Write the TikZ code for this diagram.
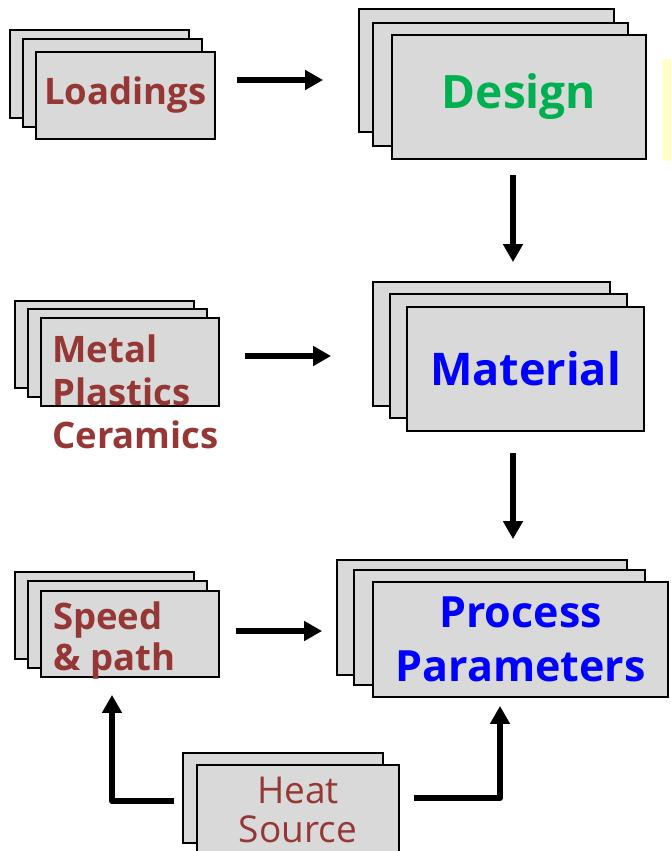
\documentclass[tikz,border=0pt]{standalone}
\usepackage{fontspec}
\setmainfont{Open Sans}
\usetikzlibrary{arrows.meta}
\definecolor{inRed}{RGB}{149,55,53}
\definecolor{designGreen}{RGB}{0,176,80}
\definecolor{mainBlue}{RGB}{0,0,255}
\definecolor{cardGray}{RGB}{217,217,217}
\definecolor{noteYellow}{RGB}{255,255,204}

\begin{document}
\begin{tikzpicture}[x=1pt, y=-1pt,
    card/.style={draw, line width=1.8pt, fill=cardGray, inner sep=0pt},
    arr/.style={line width=6pt, line join=round, -{Triangle[length=18pt, width=19pt]}},
    small/.style={font=\bfseries\fontsize{36.5}{43}\selectfont, text=inRed},
    big/.style={font=\bfseries\fontsize{46}{54}\selectfont}]
    \useasboundingbox (0,0) rectangle (670,851);
    % inputs, left column
    \node[card, minimum width=179pt, minimum height=88pt] (loadB) at (99.5,74) {};
    \node[card, minimum width=179pt, minimum height=88pt] (loadM) at (112.5,83) {};
    \node[card, small, minimum width=179pt, minimum height=87pt] (loadF) at (125.5,95.5) {\raisebox{-2pt}{Loadings}};

    \node[card, minimum width=179pt, minimum height=87pt] (metalB) at (104.5,344.5) {};
    \node[card, minimum width=179pt, minimum height=88pt] (metalM) at (117.5,353) {};
    \node[card, minimum width=178pt, minimum height=88pt] (metalF) at (130,362) {};
    \node[small, inner sep=0pt, anchor=base west, align=left] (metalTxt) at (52,448) {Metal\\Plastics\\Ceramics};

    \node[card, minimum width=179pt, minimum height=87pt] (speedB) at (104.5,615.5) {};
    \node[card, minimum width=179pt, minimum height=87pt] (speedM) at (117.5,624.5) {};
    \node[card, minimum width=178pt, minimum height=86pt] (speedF) at (130,634) {};
    \node[small, inner sep=0pt, anchor=base west, align=left, font=\bfseries\fontsize{36.5}{41}\selectfont] (speedTxt) at (53,670) {Speed\\\& path};

    \node[card, minimum width=200pt, minimum height=90pt] (heatB) at (283,798) {};
    \node[card, minimum width=202pt, minimum height=90pt, align=center, text=inRed,
        font=\fontsize{37}{39}\selectfont] (heatF) at (298,810) {Heat\\Source};

    % main column
    \node[card, minimum width=255pt, minimum height=123pt] (designB) at (486.5,70.5) {};
    \node[card, minimum width=255pt, minimum height=123pt] (designM) at (500.5,84.5) {};
    \node[card, big, text=designGreen, minimum width=254pt, minimum height=124pt] (designF) at (519,97) {Design};
    \fill[noteYellow] (662,59) rectangle (672,161);

    \node[card, minimum width=237pt, minimum height=124pt] (matB) at (491.5,344) {};
    \node[card, minimum width=237pt, minimum height=124pt] (matM) at (508.5,356) {};
    \node[card, big, text=mainBlue, minimum width=237pt, minimum height=124pt,
        font=\bfseries\fontsize{45}{54}\selectfont] (matF) at (525.5,369) {Material};

    \node[card, minimum width=290pt, minimum height=115pt] (procB) at (482,617.5) {};
    \node[card, minimum width=291pt, minimum height=115pt] (procM) at (499.5,627.5) {};
    \node[card, big, text=mainBlue, align=center, minimum width=295pt, minimum height=115pt,
        font=\bfseries\fontsize{43}{54}\selectfont] (procF) at (520.5,639.5) {Process\\Parameters};

    % connectors
    \draw[arr] ([xshift=21pt, yshift=15.5pt]loadF.east) -- ([xshift=-35pt, yshift=-9.5pt]designB.west);
    \draw[arr] ([xshift=25pt, yshift=6pt]metalF.east) -- ([xshift=-41pt, yshift=-12pt]matB.west);
    \draw[arr] ([xshift=16pt, yshift=3pt]speedF.east) -- ([xshift=-14pt, yshift=-13.5pt]procB.west);
    \draw[arr] ([xshift=-6pt, yshift=-15pt]designF.south) -- ([xshift=21.5pt, yshift=19pt]matB.north);
    \draw[arr] ([xshift=-12.5pt, yshift=-21pt]matF.south) -- ([xshift=31pt, yshift=20pt]procB.north);
    \draw[arr] ([xshift=-8pt, yshift=-3pt]heatB.west) -| ([xshift=-18pt, yshift=-17pt]speedF.south);
    \draw[arr] ([xshift=14pt, yshift=12pt]heatF.east) -| ([xshift=-20.5pt, yshift=-8pt]procF.south);
\end{tikzpicture}
\end{document}
